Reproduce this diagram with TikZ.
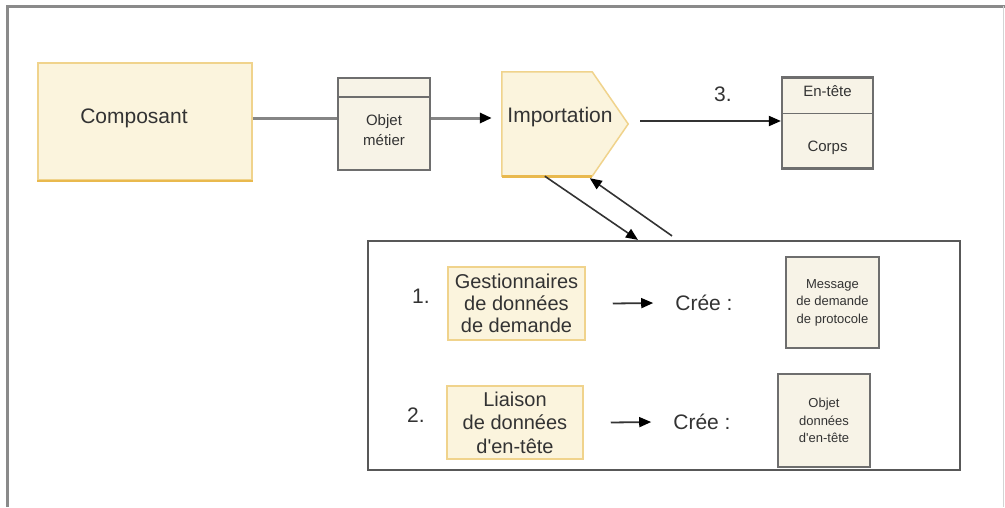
\documentclass[tikz,border=0pt]{standalone}
\usepackage{fontspec}
\setmainfont{Liberation Sans}
\usetikzlibrary{arrows.meta}
\definecolor{paleyellow}{HTML}{FBF4DD}
\definecolor{goldline}{HTML}{F0D38C}
\definecolor{golddark}{HTML}{E9B94E}
\definecolor{boxfill}{HTML}{F7F3E7}
\definecolor{boxline}{HTML}{6E6E6E}
\definecolor{ink}{HTML}{333333}
\definecolor{flow}{HTML}{858585}
\definecolor{frameline}{HTML}{8A8A8A}
\definecolor{frameside}{HTML}{D4D4D4}

\tikzset{
  compbox/.style={draw=goldline, fill=paleyellow, line width=1.5pt, inner sep=0, text=ink, align=center},
  databox/.style={draw=boxline, fill=boxfill, line width=2.2pt, inner sep=0, text=ink, align=center},
  groupbox/.style={draw=boxline!80!black, line width=2.2pt, inner sep=0},
  txt/.style={text=ink, inner sep=0, align=center},
  bigtxt/.style={font=\fontsize{21}{22}\selectfont},
  smalltxt/.style={font=\fontsize{15}{20}\selectfont},
  tinytxt/.style={font=\fontsize{13}{17.5}\selectfont},
  headtip/.style={-{Triangle[length=12pt,width=10pt,color=black]}},
}

\begin{document}
\begin{tikzpicture}[x=1pt,y=-1pt]
\useasboundingbox (0,0) rectangle (1005,507);

% outer frame
\draw[frameline, line width=3pt] (7,507) -- (7,6) -- (1005,6);
\draw[frameside, line width=1pt] (1003,6) -- (1003,507);

% reference rows for the horizontal flow
\coordinate (flowy) at (0,118);
\coordinate (row3) at (0,121);

% component
\node[compbox, minimum width=214, minimum height=117] (comp) at (145,121.5) {};
\draw[golddark, line width=2pt] (comp.south west) -- (comp.south east);
\node[txt, bigtxt] (comptxt) at (134,118) {Composant};

% business object
\node[databox, minimum width=92, minimum height=92] (obj) at (384,124) {};
\draw[boxline, line width=1.8pt] ([yshift=-20pt]obj.north west) -- ([yshift=-20pt]obj.north east);
\node[txt, smalltxt] (objtxt) at (384,130) {Objet\\métier};

% import (arrow-shaped)
\node[minimum width=126, minimum height=104, inner sep=0] (imp) at (565,124) {};
\filldraw[fill=paleyellow, draw=goldline, line width=1.5pt]
  (imp.north west) -- ([xshift=-36pt]imp.north east) -- (imp.east)
  -- ([xshift=-36pt]imp.south east) -- (imp.south west) -- cycle;
\draw[golddark, line width=3pt] (imp.south west) -- ([xshift=-36pt]imp.south east);
\node[txt, bigtxt] (imptxt) at (560,117) {Importation};

% header / body message
\node[databox, minimum width=91, minimum height=91] (hdr) at (827.5,123) {};
\draw[boxline, line width=1.8pt] ([yshift=-37pt]hdr.north west) -- ([yshift=-37pt]hdr.north east);
\node[txt, smalltxt] (hdrtxt) at (827.5,91) {En-tête};
\node[txt, smalltxt] (bodytxt) at (827.5,148) {Corps};
\node[txt, bigtxt] (step3) at (723,94) {3.};

% flow connectors
\draw[flow, line width=3pt] (comp.east |- flowy) -- (obj.west |- flowy);
\draw[flow, line width=3pt, headtip] (obj.east |- flowy) -- ([xshift=-10pt]imp.west |- flowy);
\draw[ink, line width=1.8pt, headtip] ([xshift=12pt]imp.east |- row3) -- (hdr.west |- row3);

% group of handlers
\node[groupbox, minimum width=592, minimum height=229] (grp) at (664,355.5) {};

\draw[ink, line width=1.6pt, headtip] ([xshift=43pt]imp.south west) -- ([xshift=-26pt]grp.north);
\draw[ink, line width=1.6pt, headtip] ([xshift=8pt,yshift=4pt]grp.north) -- ([xshift=88pt,yshift=-2pt]imp.south west);

% row 1
\node[txt, bigtxt] (step1) at (421,296) {1.};
\node[compbox, minimum width=137, minimum height=73, font=\fontsize{20}{22}\selectfont] (gest) at (516.5,303.5) {Gestionnaires\\de données\\de demande};
\node[txt, bigtxt] (cree1) at (704,303) {Crée :};
\draw[ink, line width=1.8pt, headtip] ([xshift=27pt]gest.east) -- ([xshift=-22pt]cree1.west);
\node[databox, minimum width=93, minimum height=91, tinytxt] (msg) at (832.5,302.5) {Message\\de demande\\de protocole};

% row 2
\node[txt, bigtxt] (step2) at (416,415) {2.};
\node[compbox, minimum width=136, minimum height=73, font=\fontsize{20}{23.5}\selectfont] (bind) at (515,422.5) {Liaison\\de données\\d\textquotesingle en-tête};
\node[txt, bigtxt] (cree2) at (702,422) {Crée :};
\draw[ink, line width=1.8pt, headtip] ([xshift=27pt]bind.east) -- ([xshift=-22pt]cree2.west);
\node[databox, minimum width=92, minimum height=93, tinytxt] (hdrobj) at (824,420.5) {Objet\\données\\d\textquotesingle en-tête};

\end{tikzpicture}
\end{document}
